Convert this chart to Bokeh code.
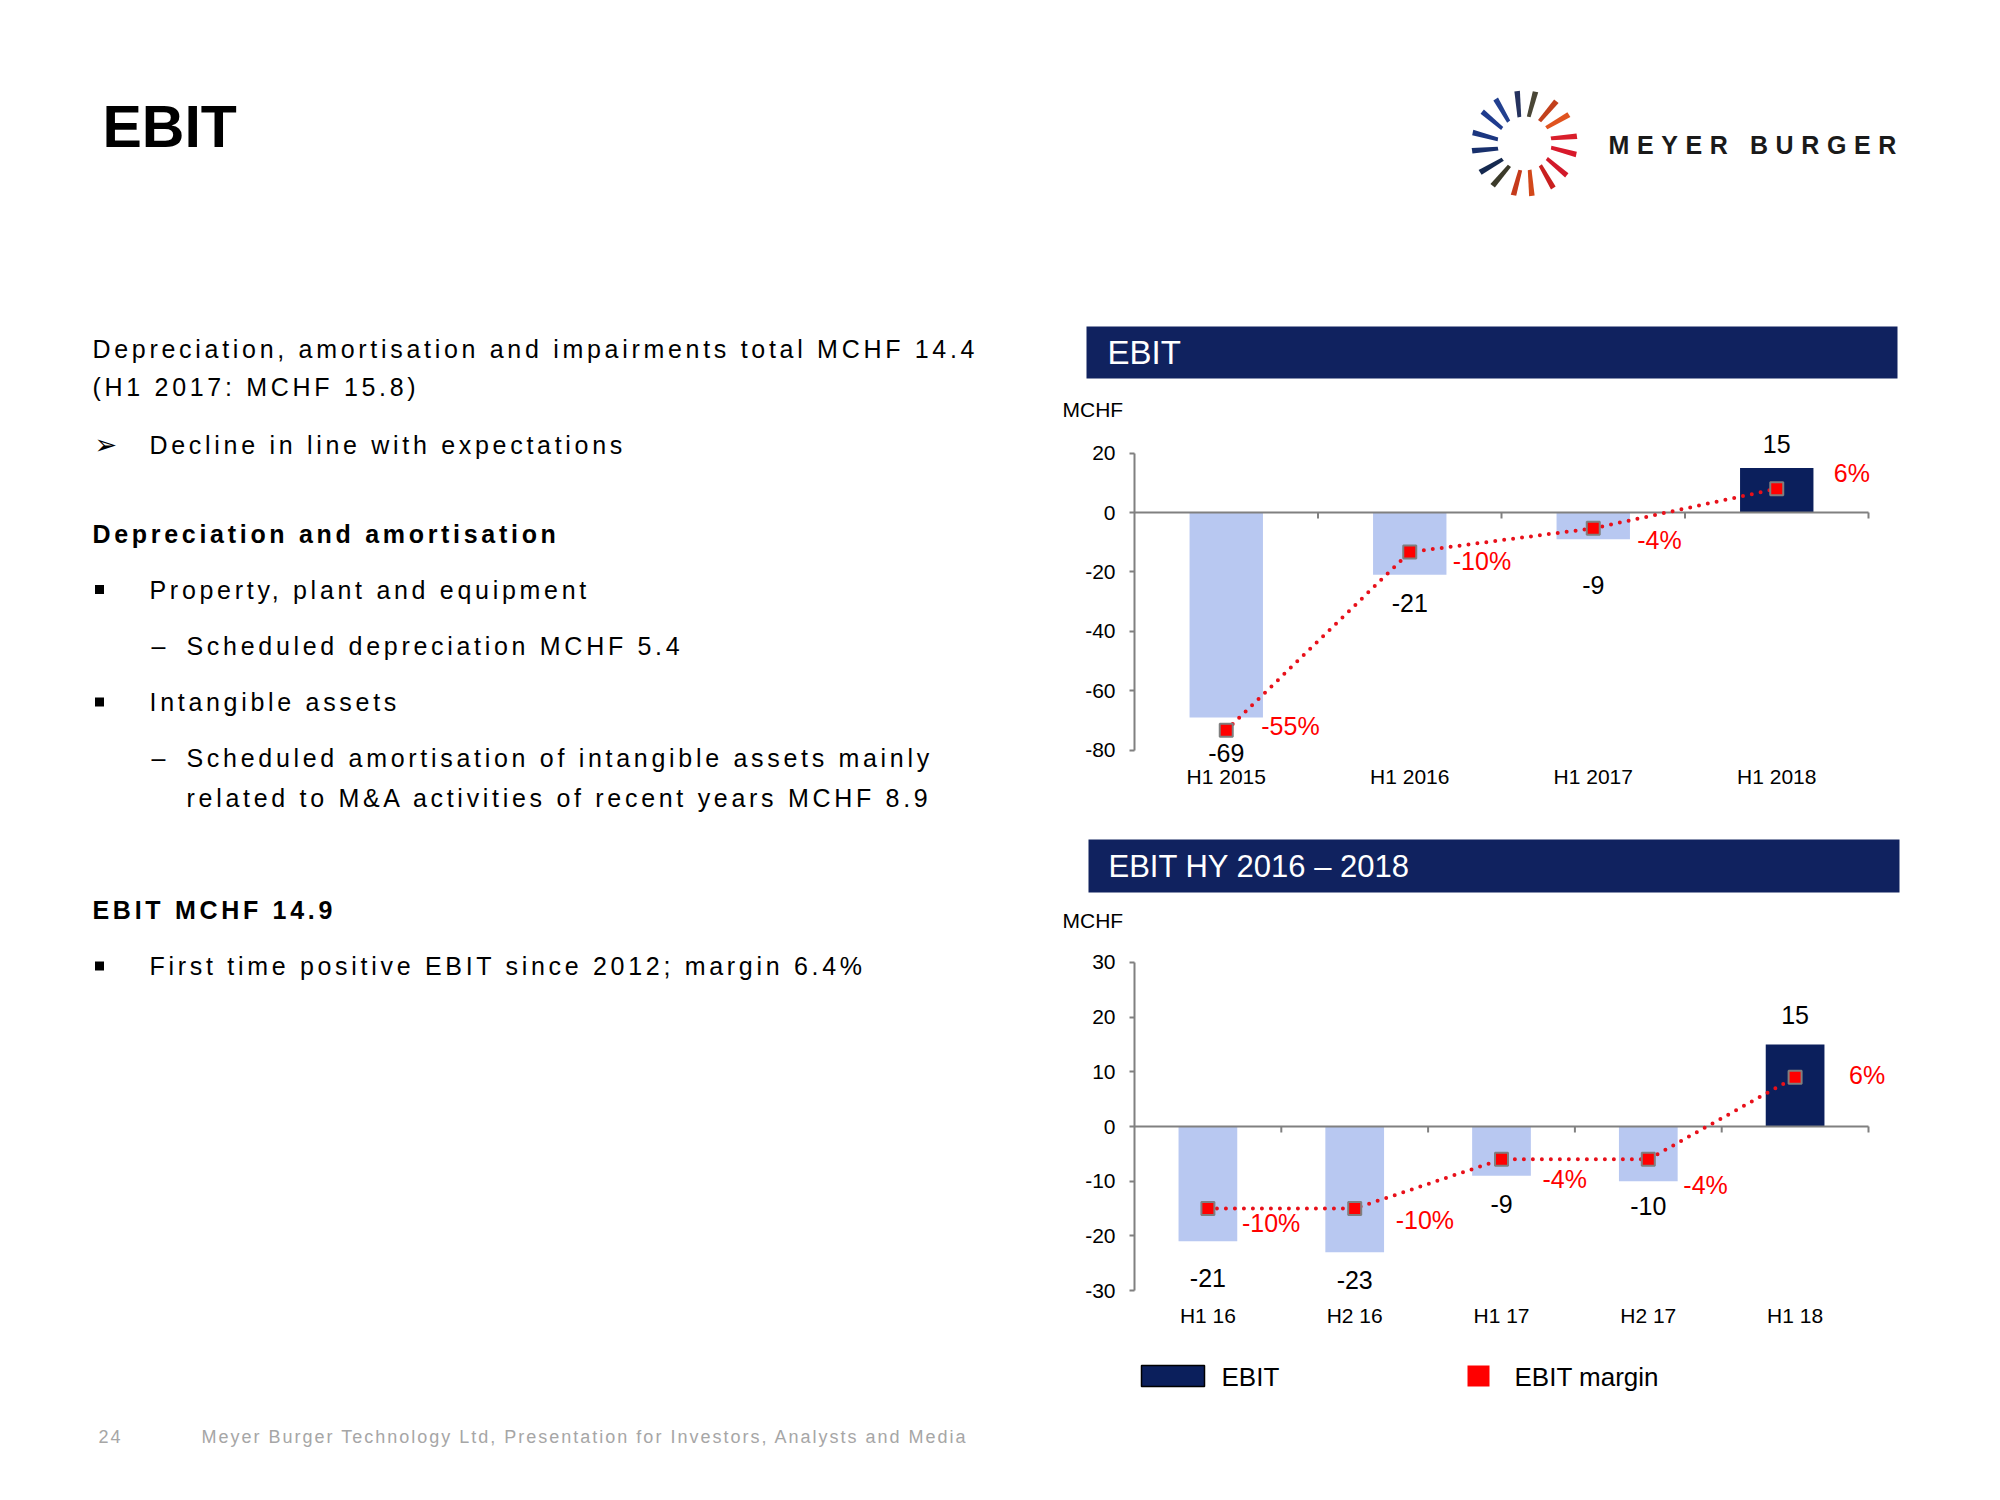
import numpy as np
from bokeh.plotting import figure
from bokeh.layouts import row, column
from bokeh.models import Range1d, FixedTicker
from bokeh.core.properties import value
from bokeh.embed import file_html
from bokeh.resources import INLINE

# ---------------- data ----------------
cats_h1 = ["H1 2015", "H1 2016", "H1 2017", "H1 2018"]
ebit_h1 = [-69, -21, -9, 15]
margin_h1 = [-55, -10, -4, 6]
yticks_h1 = [-80, -60, -40, -20, 0, 20]

cats_hy = ["H1 16", "H2 16", "H1 17", "H2 17", "H1 18"]
ebit_hy = [-21, -23, -9, -10, 15]
margin_hy = [-10, -10, -4, -4, 6]
yticks_hy = [-30, -20, -10, 0, 10, 20, 30]

# ---------------- style ----------------
NAVY = "#10225f"
BAR_POS = "#0b1f5c"
BAR_NEG = "#b8c8f1"
RED = "#ff0000"
DOT_RED = "#e8101a"
AXIS_GRAY = "#808080"
FONT = "Liberation Sans"

# right column: every figure shares the same frame edges (page px)
RX0, RX1 = 1040, 1984
FRAME_L, FRAME_R = 1134, 1890
BL, BR = FRAME_L - RX0, RX1 - FRAME_R


def canvas(x0, x1, y0, y1, bl=0, br=0, spacing=None):
    kw = {}
    if spacing:
        kw["styles"] = {"letter-spacing": spacing}
    p = figure(width=x1 - x0, height=y1 - y0, x_range=Range1d(x0 + bl, x1 - br),
               y_range=Range1d(y1, y0), x_axis_type=None, y_axis_type=None,
               output_backend="svg", toolbar_location=None,
               min_border_left=bl, min_border_right=br, min_border_top=0, min_border_bottom=0,
               outline_line_color=None, background_fill_color="white",
               border_fill_color="white", **kw)
    return p


def txt(p, x, y, s, size, color="black", font=FONT, style="normal", align="left"):
    # y is the visual middle of the text line
    p.text(x=[x], y=[y], text=[s], text_font=value(font), text_font_size=f"{size}px",
           text_font_style=style, text_color=color, text_align=align, text_baseline="middle",
           level="overlay")


def chart(cats, ebit, margin, yticks, fig_top, fig_h, axis_end, zero_y, k,
          frame_top, frame_bottom, pct_factor, val_off, pct_xoff, pct_yoff, cat_standoff):
    n = len(cats)
    xs = list(range(1, n + 1))
    cat_w = (axis_end - FRAME_L) / n
    y0 = -(frame_bottom - zero_y) / k
    y1 = (zero_y - frame_top) / k
    p = figure(width=RX1 - RX0, height=fig_h,
               x_range=Range1d(0.5, 0.5 + (FRAME_R - FRAME_L) / cat_w),
               y_range=Range1d(y0, y1),
               output_backend="svg", toolbar_location=None,
               min_border_left=BL, min_border_right=BR,
               min_border_top=frame_top - fig_top, min_border_bottom=fig_top + fig_h - frame_bottom,
               outline_line_color=None, background_fill_color="white", border_fill_color="white")
    p.extra_y_ranges = {"pct": Range1d(y0 / pct_factor, y1 / pct_factor)}
    p.grid.visible = False

    # y axis
    yax = p.yaxis[0]
    yax.ticker = FixedTicker(ticks=yticks)
    yax.major_label_overrides = {t: str(t) for t in yticks}
    yax.bounds = (yticks[0], yticks[-1])
    yax.axis_line_color = AXIS_GRAY
    yax.axis_line_width = 2
    yax.major_tick_line_color = AXIS_GRAY
    yax.major_tick_line_width = 2
    yax.major_tick_out = 5
    yax.major_tick_in = 0
    yax.minor_tick_line_color = None
    yax.major_label_standoff = 14
    yax.major_label_text_font = FONT
    yax.major_label_text_font_size = "21px"
    yax.major_label_text_color = "black"

    # category labels
    xax = p.xaxis[0]
    xax.ticker = FixedTicker(ticks=xs)
    xax.major_label_overrides = {x: c for x, c in zip(xs, cats)}
    xax.axis_line_color = None
    xax.major_tick_line_color = None
    xax.minor_tick_line_color = None
    xax.major_tick_out = 0
    xax.major_tick_in = 0
    xax.major_label_standoff = cat_standoff
    xax.major_label_text_font = FONT
    xax.major_label_text_font_size = "21px"
    xax.major_label_text_color = "black"

    # bars
    colors = [BAR_POS if v >= 0 else BAR_NEG for v in ebit]
    p.vbar(x=xs, top=ebit, bottom=0, width=0.4, fill_color=colors, line_color=None)

    # zero line with category separators
    tick_len = 6 / k
    p.segment(x0=[0.5], y0=[0], x1=[n + 0.5], y1=[0], line_color=AXIS_GRAY, line_width=2)
    seps = [i + 0.5 for i in xs]
    p.segment(x0=seps, y0=[0] * n, x1=seps, y1=[-tick_len] * n, line_color=AXIS_GRAY,
              line_width=2)

    # value labels
    p.text(x=xs, y=ebit, text=[str(v) for v in ebit], text_align="center",
           text_baseline="middle", y_offset=val_off, text_font=value(FONT),
           text_font_size="25px", text_color="black", level="overlay")

    # margin line
    p.line(x=xs, y=margin, y_range_name="pct", line_color=DOT_RED, line_width=4,
           line_dash="0 9", line_cap="round")
    p.scatter(x=xs, y=margin, y_range_name="pct", marker="square", size=13,
              fill_color=RED, line_color="#7f7f7f", line_width=2)
    p.text(x=xs, y=margin, y_range_name="pct", text=[f"{m}%" for m in margin],
           text_align="left", text_baseline="middle", x_offset=pct_xoff, y_offset=pct_yoff,
           text_font=value(FONT), text_font_size="25px", text_color=RED, level="overlay")
    return p


# ---------------- left text column ----------------
title = canvas(0, 1040, 0, 250)
txt(title, 102, 126, "EBIT", 59, style="bold")

left = canvas(0, 1040, 250, 1400, spacing="3.7px")
body = [
    (92, 348, "Depreciation, amortisation and impairments total MCHF 14.4", "normal"),
    (92, 386.5, "(H1 2017: MCHF 15.8)", "normal"),
    (149, 444, "Decline in line with expectations", "normal"),
    (92, 533, "Depreciation and amortisation", "bold"),
    (149, 589, "Property, plant and equipment", "normal"),
    (151, 645, "\u2013", "normal"),
    (186, 645, "Scheduled depreciation MCHF 5.4", "normal"),
    (149, 701.5, "Intangible assets", "normal"),
    (151, 757.5, "\u2013", "normal"),
    (186, 757.5, "Scheduled amortisation of intangible assets mainly", "normal"),
    (186, 797, "related to M&A activities of recent years MCHF 8.9", "normal"),
    (92, 909, "EBIT MCHF 14.9", "bold"),
    (149, 965.5, "First time positive EBIT since 2012; margin 6.4%", "normal"),
]
for x, y, s, st in body:
    txt(left, x, y, s, 25, style=st)
txt(left, 94, 444, "\u27a2", 27, font="DejaVu Sans")
left.scatter(x=[99, 99, 99], y=[589, 701.5, 965.5], marker="square", size=9,
             fill_color="black", line_color=None, level="overlay")

footer = canvas(0, 1040, 1400, 1484, spacing="2px")
txt(footer, 98, 1436, "24", 18, color="#a6a6a6")
txt(footer, 201, 1436, "Meyer Burger Technology Ltd, Presentation for Investors, Analysts and Media",
    18, color="#a6a6a6")

# ---------------- logo ----------------
logo = canvas(RX0, RX1, 0, 315, BL, BR, spacing="7.6px")
blade_angles = [-10, 10, 35, 55, 80, 100, 125, 145, 170, 190, 215, 235, 260, 280, 305, 325]
blade_colors = ["#25325e", "#4a4636", "#c2401c", "#e0531f", "#d91f2b", "#d8192b", "#d2192a",
                "#c9201f", "#d2481a", "#c53a1b", "#3c3b2a", "#15294f", "#18306c", "#1b3680",
                "#1f3b8e", "#22408f"]
cx, cy, r_in, r_out = 1524, 143, 27, 53
bxs, bys = [], []
for a in blade_angles:
    pts = [(r_in, a - 5), (r_out, a - 1), (r_out, a + 5), (r_in, a + 3)]
    bxs.append([cx + r * np.sin(np.radians(t)) for r, t in pts])
    bys.append([cy - r * np.cos(np.radians(t)) for r, t in pts])
logo.patches(xs=bxs, ys=bys, fill_color=blade_colors, line_color=None, level="overlay")
txt(logo, 1608, 144, "MEYER BURGER", 25, color="#1a1a1a", style="bold")

# ---------------- chart headers ----------------
head1 = canvas(RX0, RX1, 315, 425, BL, BR)
head1.quad(left=[1086], right=[1897], top=[326], bottom=[378], fill_color=NAVY,
           line_color=None, level="overlay")
txt(head1, 1107, 352, "EBIT", 33, color="white")
txt(head1, 1062, 409, "MCHF", 21)

head2 = canvas(RX0, RX1, 800, 935, BL, BR)
head2.quad(left=[1088], right=[1899], top=[839], bottom=[892], fill_color=NAVY,
           line_color=None, level="overlay")
txt(head2, 1108, 866, "EBIT HY 2016 \u2013 2018", 31, color="white")
txt(head2, 1062, 920, "MCHF", 21)

# ---------------- charts ----------------
chart1 = chart(cats_h1, ebit_h1, margin_h1, yticks_h1, fig_top=425, fig_h=375, axis_end=1868,
               zero_y=512, k=2.97, frame_top=428, frame_bottom=764, pct_factor=4 / 3,
               val_off=[36, 28, 46, -24], pct_xoff=[35, 43, 44, 57], pct_yoff=[-4, 9, 12, -16],
               cat_standoff=0)

chart2 = chart(cats_hy, ebit_hy, margin_hy, yticks_hy, fig_top=935, fig_h=405, axis_end=1868,
               zero_y=1126, k=5.47, frame_top=945, frame_bottom=1297, pct_factor=1.5,
               val_off=[37, 28, 28, 25, -29], pct_xoff=[34, 41, 41, 35, 54],
               pct_yoff=[14, 11, 20, 26, -2], cat_standoff=6)

# ---------------- legend ----------------
leg = canvas(RX0, RX1, 1340, 1484, BL, BR)
leg.quad(left=[1141], right=[1204], top=[1365], bottom=[1386], fill_color=BAR_POS,
         line_color="black", line_width=1.5, level="overlay")
txt(leg, 1221, 1376, "EBIT", 26)
leg.quad(left=[1467], right=[1489], top=[1365], bottom=[1386], fill_color=RED,
         line_color=None, level="overlay")
txt(leg, 1514, 1376, "EBIT margin", 26)

layout = row(column(title, left, footer), column(logo, head1, chart1, head2, chart2, leg))

open("out.html", "w").write(file_html(layout, INLINE, "EBIT"))
